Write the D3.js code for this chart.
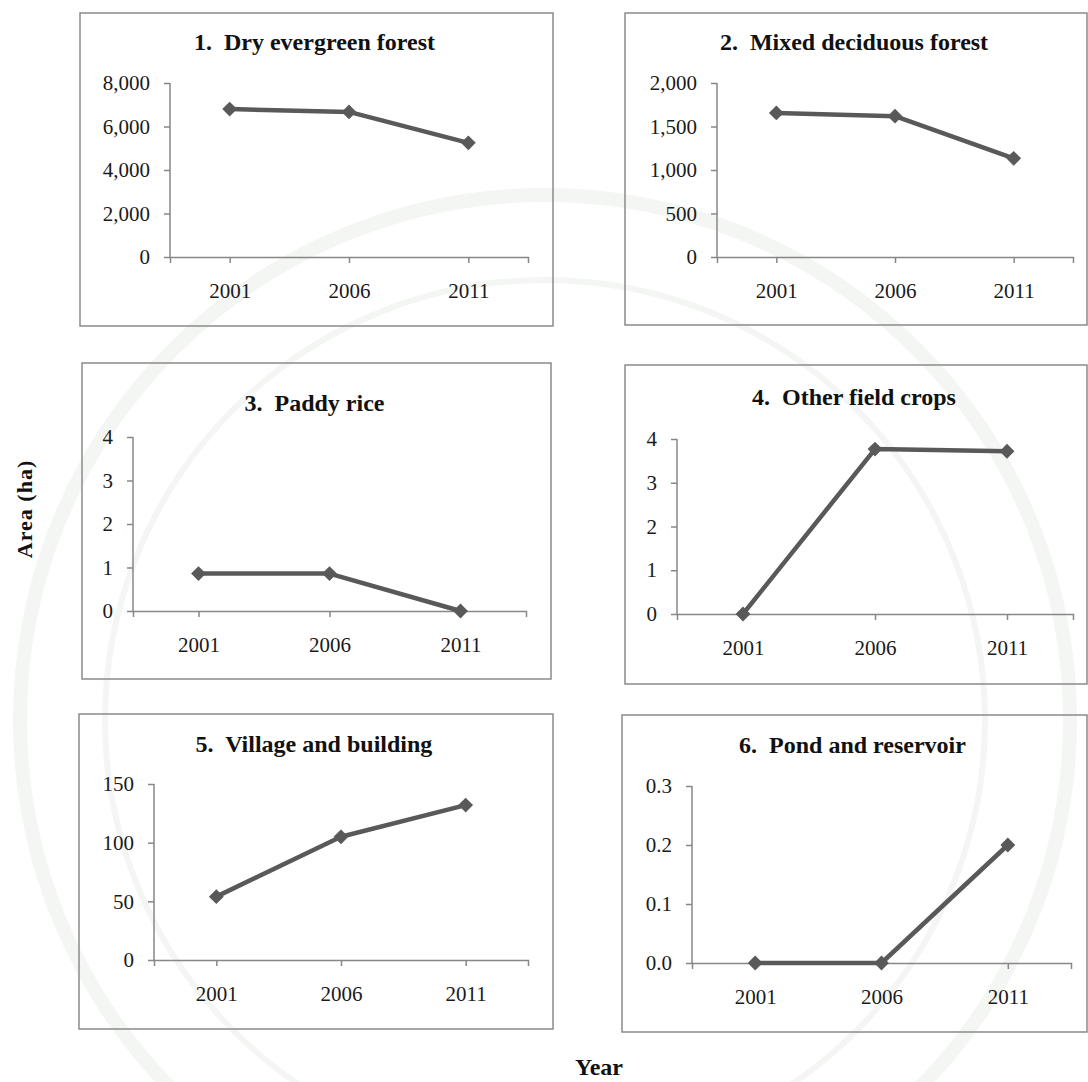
<!DOCTYPE html>
<html>
<head>
<meta charset="utf-8">
<script src="https://cdn.jsdelivr.net/npm/d3@7"></script>
<style>
  body { margin: 0; background: #fff; }
  svg { display: block; font-family: "Liberation Serif", "Times New Roman", serif; }
  .axis path, .axis line { stroke: #878787; stroke-width: 1.5; }
  .axis text { fill: #1a1a1a; font-size: 21px; font-family: "Liberation Serif", "Times New Roman", serif; }
  .title { font-size: 24px; font-weight: bold; fill: #111; }
</style>
</head>
<body>
<div id="chart"></div>
<script>
// categories and values
const years = ["2001", "2006", "2011"];
const titles = [
  "1.  Dry evergreen forest",
  "2.  Mixed deciduous forest",
  "3.  Paddy rice",
  "4.  Other field crops",
  "5.  Village and building",
  "6.  Pond and reservoir"
];
const dryEvergreen = [6800, 6670, 5250];
const mixedDeciduous = [1656, 1619, 1134];
const paddyRice = [0.86, 0.86, 0];
const otherCrops = [0, 3.77, 3.72];
const village = [54, 105, 132];
const pond = [0, 0, 0.2];

const yTicks = [
  [0, 2000, 4000, 6000, 8000],
  [0, 500, 1000, 1500, 2000],
  [0, 1, 2, 3, 4],
  [0, 1, 2, 3, 4],
  [0, 50, 100, 150],
  [0, 0.1, 0.2, 0.3]
];
const yFormats = [d3.format(","), d3.format(","), d3.format("d"), d3.format("d"), d3.format("d"), d3.format(".1f")];
const series = [dryEvergreen, mixedDeciduous, paddyRice, otherCrops, village, pond];

const WIDTH = 1088;
const HEIGHT = 1082;
const LINE_COLOR = "#595959";

// panel frames: box and plot area (y axis x, x axis end, zero line, top tick), title baseline
const LAYOUT = [
  { box: [80, 13, 473, 313], plot: [170, 528, 257, 83], titleY: 50 },
  { box: [625, 13, 462, 312], plot: [717, 1073, 257, 83], titleY: 50 },
  { box: [82, 363, 469, 316], plot: [133, 526, 611, 437], titleY: 411 },
  { box: [625, 365, 462, 319], plot: [677, 1073, 614, 439], titleY: 405 },
  { box: [79, 714, 474, 315], plot: [154, 528, 960, 784], titleY: 752 },
  { box: [622, 715, 465, 317], plot: [692, 1071, 963, 786], titleY: 753 }
];

let svg = d3.select("#chart")
  .append("svg")
  .attr("width", WIDTH)
  .attr("height", HEIGHT);

// faint seal watermark behind the panels
let mark = svg.append("g").attr("fill", "none").attr("stroke", "#f4f6f3");
mark.append("circle").attr("cx", 545).attr("cy", 720).attr("r", 525).attr("stroke-width", 14);
mark.append("circle").attr("cx", 545).attr("cy", 720).attr("r", 440).attr("stroke-width", 6);

LAYOUT.forEach((lay, i) => drawPanel(lay, i));

// shared axis titles
svg.append("text")
  .attr("transform", "translate(32,509) rotate(-90)")
  .attr("text-anchor", "middle")
  .attr("font-size", 22)
  .attr("font-weight", "bold")
  .attr("letter-spacing", 1)
  .attr("fill", "#111")
  .text("Area (ha)");

svg.append("text")
  .attr("x", 599)
  .attr("y", 1075)
  .attr("text-anchor", "middle")
  .attr("font-size", 24)
  .attr("font-weight", "bold")
  .attr("fill", "#111")
  .text("Year");

function drawPanel(lay, i) {
  let [bx, by, bw, bh] = lay.box;
  let [ax, xEnd, y0, yTop] = lay.plot;
  let g = svg.append("g");

  g.append("rect")
    .attr("x", bx)
    .attr("y", by)
    .attr("width", bw)
    .attr("height", bh)
    .attr("fill", "none")
    .attr("stroke", "#8a8a8a")
    .attr("stroke-width", 1.5);

  g.append("text")
    .attr("class", "title")
    .attr("x", bx + bw / 2 - 2)
    .attr("y", lay.titleY)
    .attr("text-anchor", "middle")
    .style("white-space", "pre")
    .text(titles[i]);

  let ticks = yTicks[i];
  let xScale = d3.scalePoint().domain(years).range([ax, xEnd]).padding(0.5);
  let yScale = d3.scaleLinear().domain([0, d3.max(ticks)]).range([y0, yTop]);

  g.append("g")
    .attr("class", "axis")
    .attr("transform", `translate(${ax},0)`)
    .call(d3.axisLeft(yScale).tickValues(ticks).tickFormat(yFormats[i]).tickSize(6).tickSizeOuter(0).tickPadding(14))
    .call((a) => a.select(".domain").attr("d", `M0,${yTop}V${y0}`));

  g.append("g")
    .attr("class", "axis")
    .attr("transform", `translate(0,${y0})`)
    .call(d3.axisBottom(xScale).tickSize(6).tickSizeOuter(6).tickPadding(20));

  let data = years.map((yr, k) => ({ year: yr, value: series[i][k] }));

  let line = d3.line()
    .x((d) => xScale(d.year))
    .y((d) => yScale(d.value));

  g.append("path")
    .datum(data)
    .attr("d", line)
    .attr("fill", "none")
    .attr("stroke", LINE_COLOR)
    .attr("stroke-width", 4.5)
    .attr("stroke-linejoin", "round");

  g.selectAll(".marker")
    .data(data)
    .join("path")
    .attr("class", "marker")
    .attr("d", d3.symbol(d3.symbolSquare, 110))
    .attr("transform", (d) => `translate(${xScale(d.year)},${yScale(d.value)}) rotate(45)`)
    .attr("fill", LINE_COLOR);
}
</script>
</body>
</html>
